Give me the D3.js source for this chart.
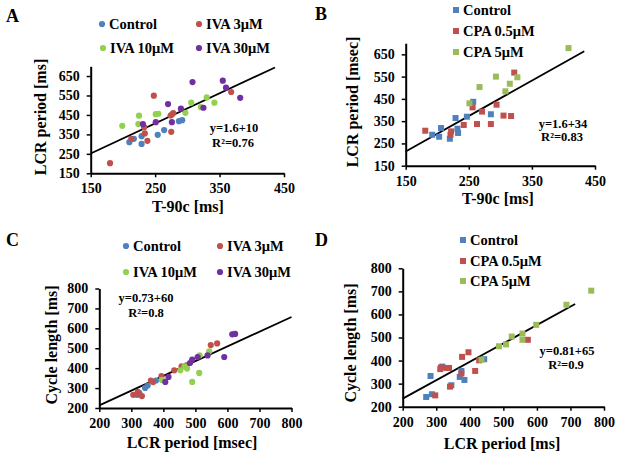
<!DOCTYPE html>
<html><head><meta charset="utf-8">
<script src="https://cdn.jsdelivr.net/npm/d3@7"></script>
<style>
body{margin:0;background:#fff;}
svg{display:block;font-family:"Liberation Serif","Times New Roman",serif;font-weight:bold;}
</style></head><body>
<svg id="c" width="624" height="457"></svg>
<script>
// ---------- DATA ----------
// Panel A (T-90c vs LCR period, IVA)
const aControl = [[210,310],[217,327],[229,341],[229,301],[254,348],[264,372],[287,418],[292,423]];
const aIVA3 = [[180,202],[248,549],[274,447],[278,459],[276,452],[275,363],[238,317],[234,355],[233,387],[213,327],[368,568]];
const aIVA10 = [[199,394],[225,446],[224,403],[251,454],[255,456],[297,461],[306,513],[330,540],[342,513],[321,490]];
const aIVA30 = [[308,619],[355,626],[360,590],[382,538],[325,487],[290,482],[270,506],[251,413],[276,413],[231,403]];
const aFit = [[150,252],[436,694]];
// Panel B (T-90c vs LCR period, CPA)
const bControl = [[192,289],[203,280],[206,319],[220,271],[229,364],[232,316],[233,297],[247,370],[257,437],[285,381]];
const bCPA05 = [[181,307],[221,289],[222,304],[242,333],[256,412],[263,337],[271,393],[285,337],[294,424],[305,375],[317,373],[322,568]];
const bCPA5 = [[251,430],[267,503],[293,550],[308,484],[315,518],[327,547],[408,678]];
const bFit = [[150,214],[433,664]];
// Panel C (LCR period vs cycle length, IVA)
const cControl = [[317,266],[325,275],[343,301],[351,313],[377,338]];
const cIVA3 = [[306,266],[320,281],[325,268],[333,260],[361,338],[368,330],[394,360],[434,389],[457,409],[472,414],[548,516],[568,524]];
const cIVA10 = [[395,341],[453,389],[466,409],[474,398],[490,331],[512,376],[513,464],[543,484]];
const cIVA30 = [[406,331],[416,356],[483,426],[490,443],[507,456],[538,464],[590,456],[615,570],[624,572]];
const cFit = [[200,213],[800,657]];
// Panel D (LCR period vs cycle length, CPA)
const dControl = [[270,242],[287,254],[283,333],[318,374],[345,293],[370,329],[375,355],[384,316],[443,406]];
const dCPA05 = [[297,249],[312,363],[314,370],[332,368],[338,368],[341,287],[375,344],[377,416],[396,436],[416,355],[428,401],[573,490]];
const dCPA5 = [[435,404],[487,462],[508,470],[525,504],[557,490],[557,517],[598,555],[688,642],[762,703]];
const dFit = [[200,235],[714,645]];

const ticksT = [150,250,350,450];
const ticksLCR = [150,250,350,450,550,650];
const ticksCL = [200,300,400,500,600,700,800];

const colBlue = "#4F81BD", colRed = "#C0504D", colLime = "#92D050", colOlive = "#9BBB59", colPurple = "#7030A0";

// ---------- DRAW ----------
const svg = d3.select("#c");

function panel(cfg){
  const x = d3.scaleLinear().domain(cfg.xd).range(cfg.xr);
  const y = d3.scaleLinear().domain(cfg.yd).range(cfg.yr);
  const g = svg.append("g");
  const ax = g.append("g").attr("transform",`translate(0,${cfg.yr[0]})`)
    .call(d3.axisBottom(x).tickValues(cfg.xt).tickSize(4).tickSizeOuter(0).tickPadding(6));
  const ay = g.append("g").attr("transform",`translate(${cfg.xr[0]},0)`)
    .call(d3.axisLeft(y).tickValues(cfg.yt).tickSize(4).tickSizeOuter(0).tickPadding(7));
  [ax,ay].forEach(a=>{
    a.select(".domain").attr("stroke","#000").attr("stroke-width",2);
    a.selectAll(".tick line").attr("stroke","#000").attr("stroke-width",1.5);
    a.selectAll("text").attr("font-family","Liberation Serif").attr("font-weight","bold")
      .attr("font-size",14).attr("fill","#000");
  });
  g.append("line").attr("x1",x(cfg.fit[0][0])).attr("y1",y(cfg.fit[0][1]))
    .attr("x2",x(cfg.fit[1][0])).attr("y2",y(cfg.fit[1][1]))
    .attr("stroke","#000").attr("stroke-width",1.8);
  cfg.series.forEach(s=>{
    if(cfg.shape==="circle"){
      g.append("g").selectAll("circle").data(s.data).join("circle")
        .attr("cx",d=>x(d[0])).attr("cy",d=>y(d[1])).attr("r",3.1).attr("fill",s.color);
    } else {
      g.append("g").selectAll("rect").data(s.data).join("rect")
        .attr("x",d=>x(d[0])-3).attr("y",d=>y(d[1])-3).attr("width",6).attr("height",6).attr("fill",s.color);
    }
  });
  cfg.series.forEach(s=>{
    const [lx,ly] = s.leg;
    if(cfg.shape==="circle") g.append("circle").attr("cx",lx).attr("cy",ly).attr("r",3.1).attr("fill",s.color);
    else g.append("rect").attr("x",lx-3).attr("y",ly-3).attr("width",6).attr("height",6).attr("fill",s.color);
    g.append("text").attr("x",lx+7).attr("y",ly+5).attr("font-size",14.5).text(s.name);
  });
  g.append("text").attr("x",cfg.label[0]).attr("y",cfg.label[1]).attr("font-size",18).text(cfg.letter);
  g.append("text").attr("x",cfg.xtitle[0]).attr("y",cfg.xtitle[1]).attr("text-anchor","middle")
    .attr("font-size",16).text(cfg.xlab);
  g.append("text").attr("transform",`translate(${cfg.ytitle[0]},${cfg.ytitle[1]}) rotate(-90)`)
    .attr("text-anchor","middle").attr("font-size",16).text(cfg.ylab);
  cfg.eq.forEach(e=>{
    g.append("text").attr("x",e[0]).attr("y",e[1]).attr("text-anchor","middle").attr("font-size",12.5).text(e[2]);
  });
}

panel({letter:"A",label:[6,22],xd:[150,450],xr:[90.7,284],yd:[150,700],yr:[173.3,66.3],xt:ticksT,yt:ticksLCR,
  fit:aFit,shape:"circle",xlab:"T-90c [ms]",ylab:"LCR period [ms]",xtitle:[188,212],ytitle:[46,117],
  eq:[[234,132,"y=1.6+10"],[233,147,"R²=0.76"]],
  series:[{name:"Control",data:aControl,color:colBlue,leg:[102,24]},
          {name:"IVA 3μM",data:aIVA3,color:colRed,leg:[199,24]},
          {name:"IVA 10μM",data:aIVA10,color:colLime,leg:[103,48]},
          {name:"IVA 30μM",data:aIVA30,color:colPurple,leg:[199,48]}]});

panel({letter:"B",label:[315,20],xd:[150,450],xr:[405.7,595],yd:[150,700],yr:[165.7,43.2],xt:ticksT,yt:ticksLCR,
  fit:bFit,shape:"rect",xlab:"T-90c [ms]",ylab:"LCR period [msec]",xtitle:[498,204],ytitle:[358,102],
  eq:[[563,128,"y=1.6+34"],[562,141,"R²=0.83"]],
  series:[{name:"Control",data:bControl,color:colBlue,leg:[456,10]},
          {name:"CPA 0.5μM",data:bCPA05,color:colRed,leg:[456,31]},
          {name:"CPA 5μM",data:bCPA5,color:colOlive,leg:[456,52]}]});

panel({letter:"C",label:[6,246],xd:[200,800],xr:[99.3,291.5],yd:[200,800],yr:[408,288.5],xt:ticksCL,yt:ticksCL,
  fit:cFit,shape:"circle",xlab:"LCR period  [msec]",ylab:"Cycle length [ms]",xtitle:[192,448],ytitle:[57,345],
  eq:[[146,302,"y=0.73+60"],[146,317,"R²=0.8"]],
  series:[{name:"Control",data:cControl,color:colBlue,leg:[126,246]},
          {name:"IVA 3μM",data:cIVA3,color:colRed,leg:[220,246]},
          {name:"IVA 10μM",data:cIVA10,color:colLime,leg:[126,272]},
          {name:"IVA 30μM",data:cIVA30,color:colPurple,leg:[220,272]}]});

panel({letter:"D",label:[315,246],xd:[200,800],xr:[402.7,604],yd:[200,800],yr:[406.7,268.3],xt:ticksCL,yt:ticksCL,
  fit:dFit,shape:"rect",xlab:"LCR period [ms]",ylab:"Cycle length [ms]",xtitle:[502,449],ytitle:[356,343],
  eq:[[567,355,"y=0.81+65"],[566,369,"R²=0.9"]],
  series:[{name:"Control",data:dControl,color:colBlue,leg:[463,240]},
          {name:"CPA 0.5μM",data:dCPA05,color:colRed,leg:[463,261]},
          {name:"CPA 5μM",data:dCPA5,color:colOlive,leg:[463,281]}]});
</script></body></html>
